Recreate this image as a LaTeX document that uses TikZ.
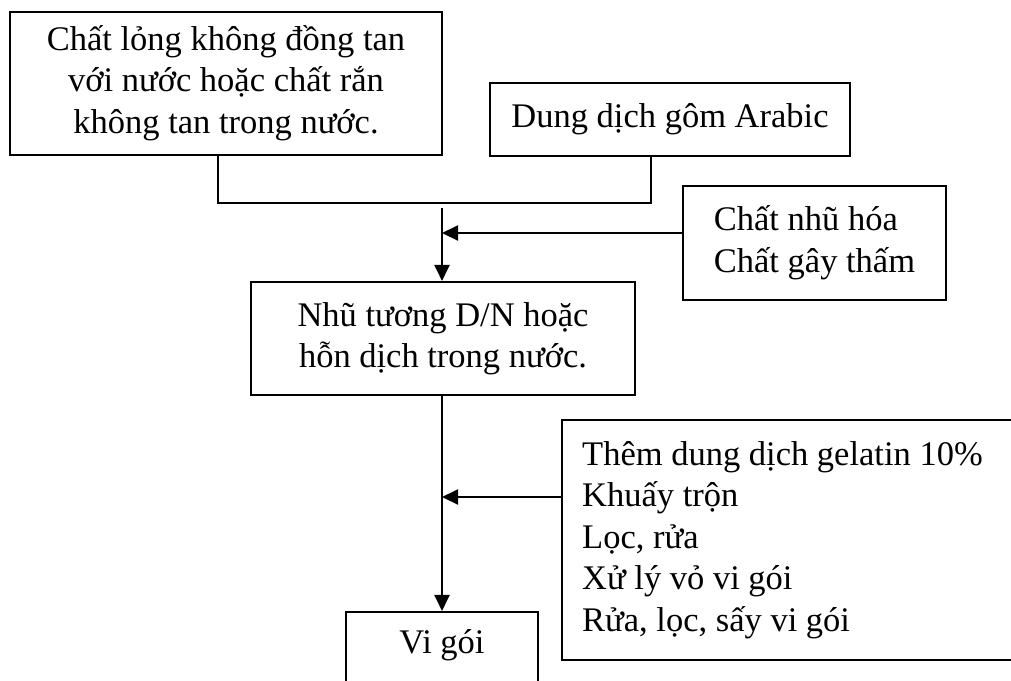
\documentclass[tikz,border=0pt]{standalone}
\usepackage{fontspec}
\setmainfont{Liberation Serif}
\usetikzlibrary{arrows.meta}
\begin{document}
\begin{tikzpicture}[x=1pt,y=-1pt,
  font=\fontsize{34.5}{41.5}\selectfont,
  box/.style={draw, line width=2.1pt, inner sep=0pt, align=center},
  conn/.style={line width=2.1pt},
  arr/.style={conn, -{Triangle[length=16pt,width=15pt]}},
  txt/.style={inner sep=0pt, align=left}]
\useasboundingbox (0,0) rectangle (1011,680);
\clip (0,0) rectangle (1011,680);
\node[box, minimum width=432pt, minimum height=143pt] (b1) at (226,83.5)
  {\raisebox{-3pt}{\begin{tabular}{@{}c@{}}Chất lỏng không đồng tan\\với nước hoặc chất rắn\\không tan trong nước.\end{tabular}}};
\node[box, minimum width=360pt, minimum height=73pt] (b2) at (670,119.5)
  {\raisebox{-3pt}{Dung dịch gôm Arabic}};
\node[box, minimum width=263pt, minimum height=114pt] (r1) at (814.5,243)
  {\raisebox{-2pt}{\begin{tabular}{@{}l@{}}Chất nhũ hóa\\Chất gây thấm\end{tabular}}};
\node[box, minimum width=384pt, minimum height=113pt] (mid) at (443,338.5)
  {\raisebox{-3pt}{\begin{tabular}{@{}c@{}}Nhũ tương D/N hoặc\\hỗn dịch trong nước.\end{tabular}}};
\node[box, minimum width=468pt, minimum height=240pt] (r2) at (796,540) {};
\node[txt, anchor=west] (r2t) at (582,540)
  {Thêm dung dịch gelatin 10\%\\Khuấy trộn\\Lọc, rửa\\Xử lý vỏ vi gói\\Rửa, lọc, sấy vi gói};
\node[box, minimum width=192pt, minimum height=108pt] (vg) at (442,666) {};
\node[txt] (vgt) at (442,645) {Vi gói};
\coordinate (j1) at (218,203);
\coordinate (j2) at (651,203);
\draw[conn] (b1.south -| j1) -- (j1) -- (j2) -- (b2.south -| j2);
\coordinate (s1) at (442,208);
\draw[arr] (s1) -- (mid.north -| s1);
\coordinate (a1) at (442,233);
\draw[arr] (r1.west |- a1) -- (a1);
\draw[arr] (mid.south -| s1) -- (vg.north -| s1);
\coordinate (a2) at (442,497);
\draw[arr] (r2.west |- a2) -- (a2);
\end{tikzpicture}
\end{document}
